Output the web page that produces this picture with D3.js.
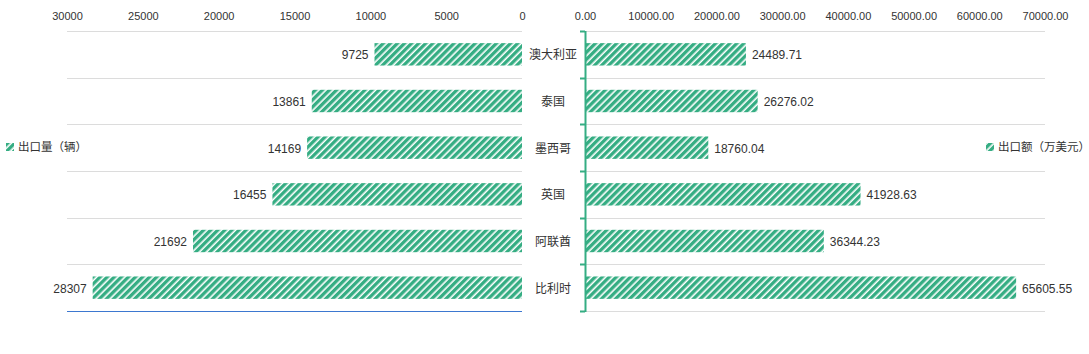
<!DOCTYPE html>
<html><head><meta charset="utf-8">
<script src="https://cdn.jsdelivr.net/npm/d3@7"></script>
<style>
body{margin:0;background:#fff;}
text{font-family:"Liberation Sans","Noto Sans CJK SC",sans-serif;}
</style></head>
<body><svg id="c" width="1089" height="354"></svg>
<script>
const categories = ["澳大利亚","泰国","墨西哥","英国","阿联酋","比利时"];
const volume = [9725,13861,14169,16455,21692,28307];
const amount = [24489.71,26276.02,18760.04,41928.63,36344.23,65605.55];
const leftTicks = [0,5000,10000,15000,20000,25000,30000];
const rightTicks = [0,10000,20000,30000,40000,50000,60000,70000];
const legendLeft = "出口量（辆）";
const legendRight = "出口额（万美元）";

(function(){
const svg = d3.select("#c");
const green = "#35ad83";
const defs = svg.append("defs");
const pat = defs.append("pattern").attr("id","hatch").attr("patternUnits","userSpaceOnUse")
  .attr("width",5).attr("height",5).attr("patternTransform","rotate(45)");
pat.append("rect").attr("width",5).attr("height",5).attr("fill","#fff");
pat.append("rect").attr("width",3.4).attr("height",5).attr("fill",green);

const topY = 31, bottomY = 311;
const y = d3.scaleBand().domain(categories).range([topY,bottomY]).paddingInner(0.52).paddingOuter(0.26);
const band = d3.scaleBand().domain(categories).range([topY,bottomY]);
const xL = d3.scaleLinear().domain([0,30000]).range([522,67]);
const xR = d3.scaleLinear().domain([0,70000]).range([585,1045]);

const bounds = categories.map(c=>band(c)).concat([bottomY]);
svg.append("g").selectAll("line").data(bounds.slice(0,-1)).join("line")
  .attr("x1",67).attr("x2",522).attr("y1",d=>Math.round(d)+0.5).attr("y2",d=>Math.round(d)+0.5)
  .attr("stroke","#dcdcdc");
svg.append("line").attr("x1",67).attr("x2",522).attr("y1",bottomY+0.5).attr("y2",bottomY+0.5)
  .attr("stroke","#3d78d0").attr("stroke-width",1.2);
svg.append("g").selectAll("line").data(bounds).join("line")
  .attr("x1",585).attr("x2",1045).attr("y1",d=>Math.round(d)+0.5).attr("y2",d=>Math.round(d)+0.5)
  .attr("stroke","#dcdcdc");

const axL = svg.append("g").attr("transform","translate(0,20)")
  .call(d3.axisTop(xL).tickValues(leftTicks).tickSize(0).tickFormat(d3.format("d")));
const axR = svg.append("g").attr("transform","translate(0,20)")
  .call(d3.axisTop(xR).tickValues(rightTicks).tickSize(0).tickFormat(d3.format(".2f")));
[axL,axR].forEach(a=>{a.select(".domain").remove();
  a.selectAll("text").attr("dy",0).attr("y",0).attr("font-size",11).attr("fill","#333")
   .attr("font-family","Liberation Sans, sans-serif");});

svg.append("g").selectAll("rect").data(volume).join("rect")
  .attr("x",d=>xL(d)).attr("width",d=>xL(0)-xL(d))
  .attr("y",(d,i)=>y(categories[i])).attr("height",y.bandwidth()).attr("fill","url(#hatch)");
svg.append("g").selectAll("rect").data(amount).join("rect")
  .attr("x",xR(0)+1).attr("width",d=>xR(d)-xR(0)-1)
  .attr("y",(d,i)=>y(categories[i])).attr("height",y.bandwidth()).attr("fill","url(#hatch)");

svg.append("g").selectAll("text").data(volume).join("text")
  .attr("x",d=>xL(d)-6).attr("y",(d,i)=>band(categories[i])+band.bandwidth()/2+5)
  .attr("text-anchor","end").attr("font-size",12).attr("fill","#333").text(d=>d);
svg.append("g").selectAll("text").data(amount).join("text")
  .attr("x",d=>xR(d)+6).attr("y",(d,i)=>band(categories[i])+band.bandwidth()/2+5)
  .attr("text-anchor","start").attr("font-size",12).attr("fill","#333").text(d=>d3.format(".2f")(d));

svg.append("g").selectAll("text").data(categories).join("text")
  .attr("x",553).attr("y",d=>band(d)+band.bandwidth()/2+5)
  .attr("text-anchor","middle").attr("font-size",12).attr("fill","#333")
  .attr("font-family","Noto Sans CJK SC, sans-serif").text(d=>d);

svg.append("line").attr("x1",xR(0)+0.5).attr("x2",xR(0)+0.5).attr("y1",topY).attr("y2",bottomY+1)
  .attr("stroke",green).attr("stroke-width",2);
svg.append("g").selectAll("line").data(bounds).join("line")
  .attr("x1",xR(0)-5).attr("x2",xR(0)).attr("y1",d=>Math.round(d)+0.5).attr("y2",d=>Math.round(d)+0.5)
  .attr("stroke",green).attr("stroke-width",2);

function legend(x,yy,label){
  const g = svg.append("g");
  g.append("rect").attr("x",x).attr("y",yy-8).attr("width",8).attr("height",8).attr("fill","url(#hatch)");
  g.append("text").attr("x",x+12).attr("y",yy).attr("font-size",11.5).attr("fill","#333")
   .attr("font-family","Noto Sans CJK SC, sans-serif").text(label);
}
legend(6,151,legendLeft);
legend(986,151,legendRight);
})();
</script></body></html>
